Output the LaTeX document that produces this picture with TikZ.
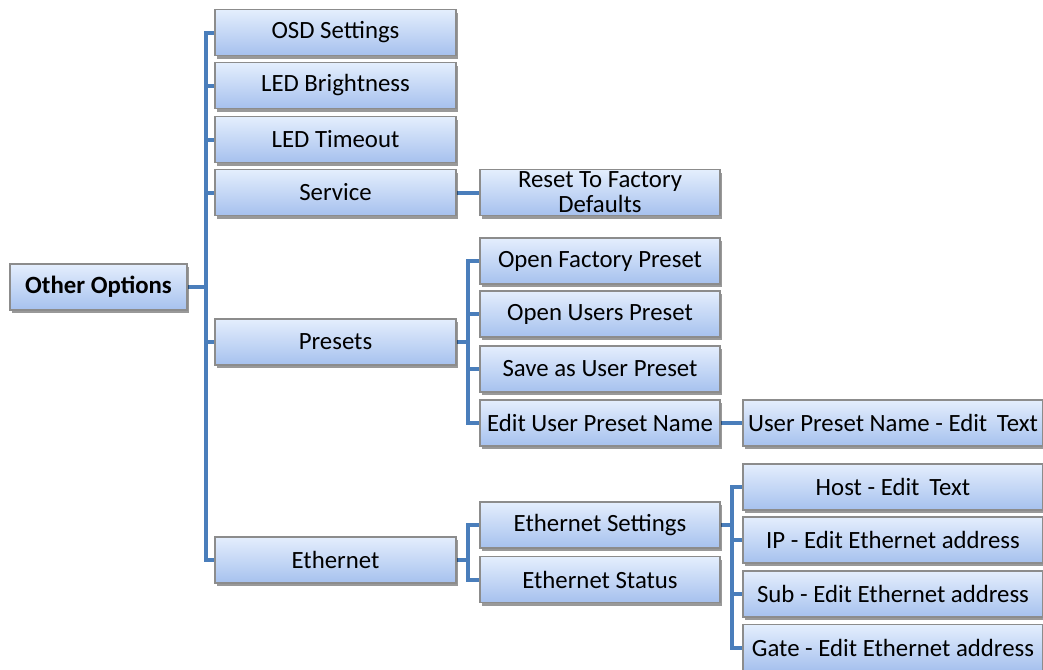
\documentclass[tikz,border=0pt]{standalone}
\usepackage{fontspec}
\setmainfont{Carlito}
\usepackage{tikz}
\usetikzlibrary{shadows}
\pgfdeclarelayer{edgelayer}
\pgfdeclarelayer{nodelayer}
\pgfsetlayers{edgelayer,nodelayer,main}
\definecolor{boxtop}{HTML}{E4EEFD}
\definecolor{boxbottom}{HTML}{A6C1EE}
\definecolor{boxline}{HTML}{8C8C8C}
\definecolor{linkblue}{HTML}{4A7EBB}
\tikzstyle{menu}=[rectangle,draw=boxline,line width=0.6pt,top color=boxtop,bottom color=boxbottom,minimum height=23pt,inner sep=1pt,align=center,font=\fontsize{12.4}{12.5}\selectfont,drop shadow={shadow xshift=0.8pt,shadow yshift=-1.6pt,opacity=0.4,fill=black}]
\tikzstyle{root}=[style=menu,minimum width=88.5pt,font=\fontsize{12.4}{12.5}\selectfont\bfseries]
\tikzstyle{level one}=[style=menu,minimum width=120.5pt]
\tikzstyle{level two}=[style=menu,minimum width=120pt]
\tikzstyle{level three}=[style=menu,minimum width=150pt]
\tikzstyle{branch}=[draw=linkblue,line width=2pt]

\begin{document}
\begin{tikzpicture}[x=0.5pt,y=-0.5pt]
	\useasboundingbox (0, 0) rectangle (1043, 669);
	\begin{pgfonlayer}{nodelayer}
		\node [style=root] (0) at (98.5, 287) {Other Options};
		\node [style=level one] (1) at (335.5, 32.5) {OSD Settings};
		\node [style=level one] (2) at (335.5, 85.5) {LED Brightness};
		\node [style=level one] (3) at (335.5, 139.5) {LED Timeout};
		\node [style=level one] (4) at (335.5, 192.5) {Service};
		\node [style=level one] (5) at (335.5, 342) {Presets};
		\node [style=level one] (6) at (335.5, 560) {Ethernet};
		\node [style=level two] (7) at (600, 192.5) {Reset To Factory\\Defaults};
		\node [style=level two] (8) at (600, 261) {Open Factory Preset};
		\node [style=level two] (9) at (600, 314) {Open Users Preset};
		\node [style=level two] (10) at (600, 369) {Save as User Preset};
		\node [style=level two] (11) at (600, 423) {Edit User Preset Name};
		\node [style=level two] (12) at (600, 525) {Ethernet Settings};
		\node [style=level two] (13) at (600, 579.5) {Ethernet Status};
		\node [style=level three] (14) at (893, 423) {User Preset Name - Edit\, Text};
		\node [style=level three] (15) at (893, 487) {Host - Edit\, Text};
		\node [style=level three] (16) at (893, 540) {IP - Edit Ethernet address};
		\node [style=level three] (17) at (893, 594) {Sub - Edit Ethernet address};
		\node [style=level three] (18) at (893, 647.5) {Gate - Edit Ethernet address};
	\end{pgfonlayer}
	\begin{pgfonlayer}{edgelayer}
		% other options
		\foreach \c in {1,2,3,4,5,6}
			\draw [style=branch] (0.east) -- ++(18, 0) |- (\c.west);
		% service
		\draw [style=branch] (4) -- (7);
		% presets
		\foreach \c in {8,9,10,11}
			\draw [style=branch] (5.east) -- ++(11, 0) |- (\c.west);
		\draw [style=branch] (11) -- (14);
		% ethernet
		\foreach \c in {12,13}
			\draw [style=branch] (6.east) -- ++(11, 0) |- (\c.west);
		\foreach \c in {15,16,17,18}
			\draw [style=branch] (12.east) -- ++(11, 0) |- (\c.west);
	\end{pgfonlayer}
\end{tikzpicture}
\end{document}
